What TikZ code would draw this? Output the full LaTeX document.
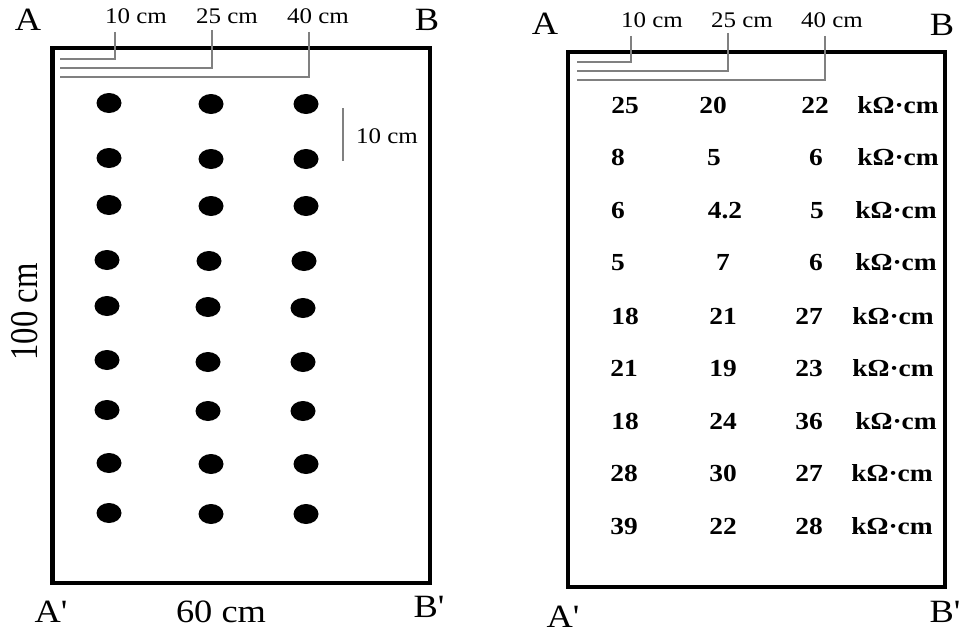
\documentclass[tikz,border=0pt]{standalone}
\usepackage{fontspec}
\setmainfont{Liberation Serif}
\newfontfamily\stf[FakeStretch=1.12]{Liberation Serif}
\begin{document}
\begin{tikzpicture}[x=1pt,y=-1pt,
  frame/.style={draw=black,line width=4.5pt},
  guide/.style={draw=black!50,line width=1.4pt},
  lab/.style={font=\stf\fontsize{22.3}{26}\selectfont,anchor=base,inner sep=0pt},
  big/.style={font=\stf\fontsize{32.5}{38}\selectfont,anchor=base,inner sep=0pt},
  val/.style={font=\stf\bfseries\fontsize{24.5}{29}\selectfont,anchor=base,inner sep=0pt}]
\useasboundingbox (0,0) rectangle (961,634);
\fill[white] (0,0) rectangle (961,634);

% ---------- left panel ----------
\draw[frame] (52.5,48) rectangle (430,583);
\node[big] (LA) at (28,31) {A};
\node[big] (LB) at (427,31) {B};
\node[big] (LA2) at (51,622) {A'};
\node[big] (LB2) at (429,617) {B'};
\node[big] (L60) at (221,622) {60 cm};
\node[font=\fontsize{32.7}{38}\selectfont,rotate=90,anchor=base,inner sep=0pt] (L100) at (37,312) {\scalebox{1}[1.2]{100 cm}};
\node[lab] (L10) at (136,24) {10 cm};
\node[lab] (L25) at (227,24) {25 cm};
\node[lab] (L40) at (318,24) {40 cm};
\coordinate (l10t) at (115,32); \coordinate (l10c) at (115,59); \coordinate (l10s) at (60,59);
\coordinate (l25t) at (212,30); \coordinate (l25c) at (212,68); \coordinate (l25s) at (60,68);
\coordinate (l40t) at (309,32); \coordinate (l40c) at (309,77); \coordinate (l40s) at (60,77);
\draw[guide] (l10t) -- (l10c) -- (l10s);
\draw[guide] (l25t) -- (l25c) -- (l25s);
\draw[guide] (l40t) -- (l40c) -- (l40s);
% scale bar
\coordinate (sbt) at (343,108); \coordinate (sbb) at (343,161);
\draw[guide] (sbt) -- (sbb);
\node[lab] (SB) at (387,143) {10 cm};
% dots
\foreach \x/\y in {109/103,211/104,306/104,
                   109/158,211/159,306/159,
                   109/205,211/206,306/206,
                   107/260,209/261,304/261,
                   107/306,208/307,303/308,
                   107/360,208/362,303/362,
                   107/410,208/411,303/411,
                   109/463,211/464,306/464,
                   109/513,211/514,306/514}
  \fill[black] (\x,\y) ellipse [x radius=12.5pt, y radius=10pt];

% ---------- right panel ----------
\draw[frame] (568,52) rectangle (945,587);
\node[big] (RA) at (545,35) {A};
\node[big] (RB) at (942,36) {B};
\node[big] (RA2) at (563,627) {A'};
\node[big] (RB2) at (945,622) {B'};
\node[lab] (R10) at (652,28) {10 cm};
\node[lab] (R25) at (742,28) {25 cm};
\node[lab] (R40) at (832,28) {40 cm};
\coordinate (r10t) at (631,36); \coordinate (r10c) at (631,62); \coordinate (r10s) at (577,62);
\coordinate (r25t) at (728,33); \coordinate (r25c) at (728,71); \coordinate (r25s) at (577,71);
\coordinate (r40t) at (825,36); \coordinate (r40c) at (825,80); \coordinate (r40s) at (577,80);
\draw[guide] (r10t) -- (r10c) -- (r10s);
\draw[guide] (r25t) -- (r25c) -- (r25s);
\draw[guide] (r40t) -- (r40c) -- (r40s);
% values
\foreach \yy/\va/\vax/\vb/\vbx/\vc/\vcx/\ux in {
   106/25/625/20/713/22/815/898,
   158/8/618/5/714/6/816/898,
   211/6/618/4.2/725/5/817/896,
   263/5/618/7/723/6/816/896,
   317/18/625/21/723/27/809/893,
   369/21/624/19/723/23/809/893,
   422/18/625/24/723/36/809/896,
   474/28/624/30/723/27/809/892,
   527/39/624/22/723/28/809/892}{
  \node[val] (va\yy) at (\vax,\yy+7.5) {\va};
  \node[val] (vb\yy) at (\vbx,\yy+7.5) {\vb};
  \node[val] (vc\yy) at (\vcx,\yy+7.5) {\vc};
  \node[val] (vu\yy) at (\ux,\yy+7.5) {kΩ·cm};
}
\end{tikzpicture}
\end{document}
